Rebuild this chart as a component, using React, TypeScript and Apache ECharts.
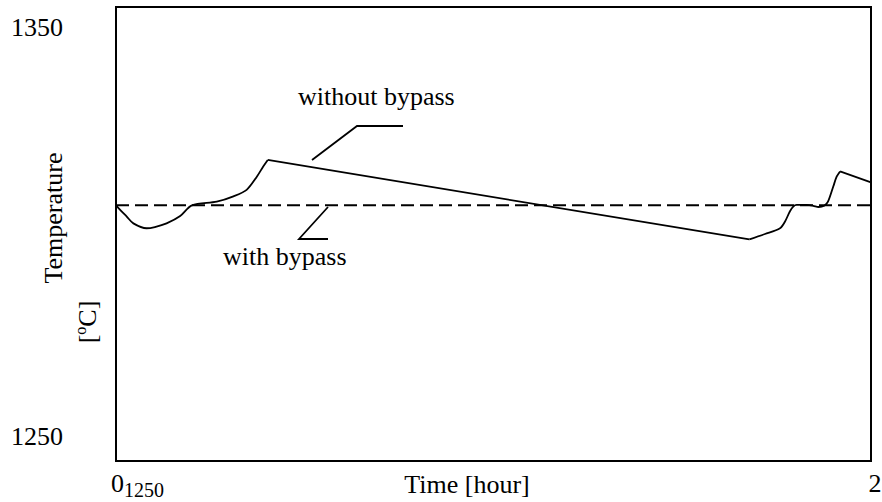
import { useEffect, useRef } from "react";
import * as echarts from "echarts";

// Time axis [hour] and temperature values [°C]
const timeHours = [
  0, 0.011, 0.028, 0.046, 0.081, 0.103, 0.134, 0.17, 0.201, 0.267, 0.311, 0.346, 0.373, 0.39, 0.402,
  1.678, 1.719, 1.759, 1.772, 1.785, 1.794, 1.803, 1.83, 1.847, 1.861, 1.876, 1.886, 1.9, 1.909, 1.918, 2,
];
const withoutBypass = [
  1306.6, 1305.5, 1303.9, 1302.2, 1301.0, 1301.3, 1302.2, 1304.0, 1306.6, 1307.5, 1308.8, 1310.4, 1313.6, 1316.1, 1317.7,
  1298.3, 1299.6, 1301.0, 1302.6, 1305.1, 1306.3, 1306.7, 1306.7, 1306.5, 1306.2, 1306.5, 1307.5, 1311.2, 1313.6, 1314.9, 1312.2,
];
const withBypassTime = [0, 2];
const withBypass = [1306.6, 1306.6];

const yTickValues = [1250, 1350];
const xTickValues = [0, 2];
const xTickSubscript = "1250";
const yAxisMin = 1244.1;
const yAxisMax = 1355.1;

// index ranges of the "without bypass" curve: curved parts are smoothed, straight ramps are not
const curveSegments = [
  { from: 0, to: 14, smooth: 0.3 },
  { from: 14, to: 15, smooth: 0 },
  { from: 15, to: 29, smooth: 0.3 },
  { from: 29, to: 30, smooth: 0 },
];

const FONT = '"Liberation Serif", "Times New Roman", serif';

export default function App() {
  const ref = useRef<HTMLDivElement>(null);

  useEffect(() => {
    document.body.style.margin = "0";
    const chart = echarts.init(ref.current!, null, { renderer: "svg" });
    const withoutPairs = timeHours.map((t, i) => [t, withoutBypass[i]]);
    chart.setOption({
      animation: false,
      backgroundColor: "#ffffff",
      textStyle: { fontFamily: FONT, color: "#000" },
      grid: {
        left: 116,
        right: 11,
        top: 7,
        bottom: 41,
        outerBoundsMode: "none",
        containLabel: false,
        show: true,
        borderColor: "#000",
        borderWidth: 2,
        backgroundColor: "transparent",
      },
      xAxis: {
        type: "value",
        min: 0,
        max: 2,
        interval: 2,
        axisLine: { show: false },
        axisTick: { show: false },
        splitLine: { show: false },
        axisLabel: {
          customValues: xTickValues,
          margin: 5,
          formatter: (v: number) => (v === 0 ? `{z|0}{s|${xTickSubscript}}` : `{t|${v}}`),
          rich: {
            z: { fontSize: 26, lineHeight: 34, fontFamily: FONT, color: "#000", padding: [0, 0, 0, 43] },
            s: { fontSize: 20, lineHeight: 20, verticalAlign: "bottom", fontFamily: FONT, color: "#000" },
            t: { fontSize: 26, lineHeight: 34, fontFamily: FONT, color: "#000", padding: [0, 0, 0, 8] },
          },
        },
        name: "Time [hour]",
        nameLocation: "middle",
        nameGap: 10,
        nameMoveOverlap: false,
        nameTextStyle: {
          fontSize: 26,
          fontFamily: FONT,
          color: "#000",
          padding: [0, 53, 0, 0],
          verticalAlign: "top",
        },
      },
      yAxis: {
        type: "value",
        min: yAxisMin,
        max: yAxisMax,
        axisLine: { show: false },
        axisTick: { show: false },
        splitLine: { show: false },
        axisLabel: {
          customValues: yTickValues,
          margin: 53,
          fontSize: 26,
          fontFamily: FONT,
          color: "#000",
          formatter: (v: number) => String(v),
        },
      },
      series: [
        ...curveSegments.map((seg) => ({
          name: "without bypass",
          type: "line",
          data: withoutPairs.slice(seg.from, seg.to + 1),
          symbol: "none",
          smooth: seg.smooth,
          lineStyle: { color: "#000", width: 1.8 },
          z: 3,
        })),
        {
          name: "with bypass",
          type: "line",
          data: withBypassTime.map((t, i) => [t, withBypass[i]]),
          symbol: "none",
          lineStyle: { color: "#000", width: 2, type: [13, 6] },
          z: 2,
        },
      ],
      graphic: [
        {
          type: "text",
          x: 298,
          y: 96,
          style: { text: "without bypass", fontSize: 26, fontFamily: FONT, fill: "#000", align: "left", verticalAlign: "middle" },
        },
        {
          type: "text",
          x: 223,
          y: 256,
          style: { text: "with bypass", fontSize: 26, fontFamily: FONT, fill: "#000", align: "left", verticalAlign: "middle" },
        },
        {
          type: "polyline",
          shape: { points: [[312, 160], [357, 126], [403, 126]] },
          style: { stroke: "#000", lineWidth: 1.8, fill: "none" },
        },
        {
          type: "polyline",
          shape: { points: [[328, 207], [299, 239], [328, 239]] },
          style: { stroke: "#000", lineWidth: 1.8, fill: "none" },
        },
        {
          type: "text",
          x: 53,
          y: 218,
          rotation: Math.PI / 2,
          style: { text: "Temperature", fontSize: 26, fontFamily: FONT, fill: "#000", align: "center", verticalAlign: "middle" },
        },
        {
          type: "text",
          x: 87,
          y: 322,
          rotation: Math.PI / 2,
          style: {
            text: "{a|[}{sup|o}{a|C]}",
            fontFamily: FONT,
            fill: "#000",
            align: "center",
            verticalAlign: "middle",
            rich: {
              a: { fontSize: 26, lineHeight: 30, fontFamily: FONT, fill: "#000", verticalAlign: "middle" },
              sup: { fontSize: 16, lineHeight: 30, fontFamily: FONT, fill: "#000", verticalAlign: "top" },
            },
          },
        },
      ],
    });
    return () => chart.dispose();
  }, []);

  return <div ref={ref} style={{ width: 882, height: 502 }} />;
}
